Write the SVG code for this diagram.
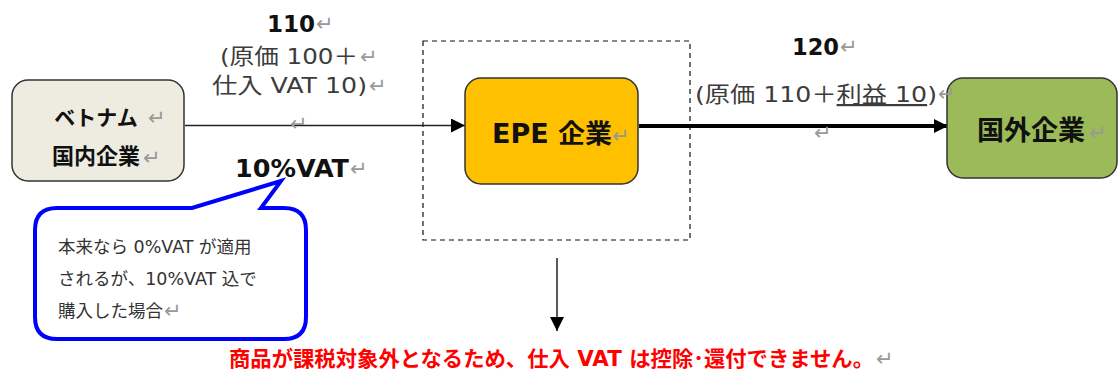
<svg xmlns="http://www.w3.org/2000/svg" width="1118" height="374" viewBox="0 0 1118 374">
<style>
text{font-family:"DejaVu Sans","Noto Sans CJK JP",sans-serif}
.b{font-weight:bold;fill:#111}
.g{fill:#3c3c3c;font-size:22px}
.r{fill:#999;font-size:21px;font-family:"DejaVu Sans",sans-serif;font-weight:normal}
.node{stroke:#333;stroke-width:1.5}
</style>
<defs>
<marker id="ah2" viewBox="0 0 10 10" refX="10" refY="5" markerWidth="15" markerHeight="14" markerUnits="userSpaceOnUse" orient="auto"><path d="M0,0 L10,5 L0,10 Z" fill="#000"/></marker>
</defs>
<rect x="423" y="41" width="267" height="199" fill="none" stroke="#111" stroke-width="1.2" stroke-dasharray="5,4"/>
<g id="connectors">
<line x1="185" y1="125.5" x2="465" y2="125.5" stroke="#222" stroke-width="1.3" marker-end="url(#ah2)"/>
<line x1="639" y1="126" x2="948" y2="126" stroke="#000" stroke-width="4" marker-end="url(#ah2)"/>
<line x1="557" y1="258" x2="557" y2="331" stroke="#000" stroke-width="1.3" marker-end="url(#ah2)"/>
</g>
<g id="label-110">
<text x="267" y="32" class="b" font-size="23" textLength="48" lengthAdjust="spacingAndGlyphs">110</text>
<text x="316" y="31" class="r">↵</text>
<text x="220" y="64" class="g" textLength="138" lengthAdjust="spacingAndGlyphs">(原価 100＋</text>
<text x="360" y="64" class="r">↵</text>
<text x="212" y="93" class="g" textLength="155" lengthAdjust="spacingAndGlyphs">仕入 VAT 10)</text>
<text x="369" y="93" class="r">↵</text>
<text x="290" y="131" class="r">↵</text>
<text x="235" y="177" class="b" font-size="24" textLength="114" lengthAdjust="spacingAndGlyphs">10%VAT</text>
<text x="350" y="176" class="r">↵</text>
</g>
<g id="node-vn">
<rect x="12" y="80" width="172" height="101" rx="16" fill="#EEECE1" class="node"/>
<text x="96" y="125" class="b" font-size="21" text-anchor="middle">ベトナム</text>
<text x="148" y="125" class="r">↵</text>
<text x="96" y="164" class="b" font-size="22" text-anchor="middle">国内企業</text>
<text x="143" y="165" class="r">↵</text>
</g>
<g id="node-epe">
<rect x="465" y="78" width="173" height="106" rx="16" fill="#FFC000" class="node"/>
<text x="492" y="143" class="b" font-size="26" textLength="120" lengthAdjust="spacingAndGlyphs">EPE 企業</text>
<text x="612" y="143" class="r">↵</text>
</g>
<g id="node-foreign">
<rect x="947" y="78" width="170" height="100" rx="16" fill="#9BBB59" class="node"/>
<text x="1031" y="140" class="b" font-size="27" text-anchor="middle">国外企業</text>
<text x="1089" y="140" class="r">↵</text>
</g>
<g id="label-120">
<text x="792" y="55" class="b" font-size="23" textLength="47" lengthAdjust="spacingAndGlyphs">120</text>
<text x="840" y="54" class="r">↵</text>
<text x="695" y="102" class="g" textLength="242" lengthAdjust="spacingAndGlyphs">(原価 110＋<tspan text-decoration="underline">利益 10</tspan>)</text>
<text x="938" y="101" class="r">↵</text>
<text x="814" y="140" class="r">↵</text>
</g>
<g id="callout">
<path d="M57,208 L192,208 L281,181 L261,208 L284,208 Q306,208 306,230 L306,317 Q306,339 284,339 L57,339 Q35,339 35,317 L35,230 Q35,208 57,208 Z" fill="#fff" stroke="#0000FF" stroke-width="4" stroke-linejoin="miter"/>
<text x="58" y="253" font-size="17.5" fill="#333">本来なら 0%VAT が適用</text>
<text x="58" y="285" font-size="17.5" fill="#333">されるが、10%VAT 込で</text>
<text x="58" y="317" font-size="17.5" fill="#333">購入した場合</text>
<text x="164" y="318" class="r" font-size="17">↵</text>
</g>
<g id="conclusion">
<text x="229" y="366" font-size="21" font-weight="bold" fill="#FF0000" textLength="645" lengthAdjust="spacingAndGlyphs">商品が課税対象外となるため、仕入 VAT は控除･還付できません。</text>
<text x="876" y="366" class="r" font-size="18">↵</text>
</g>
</svg>
